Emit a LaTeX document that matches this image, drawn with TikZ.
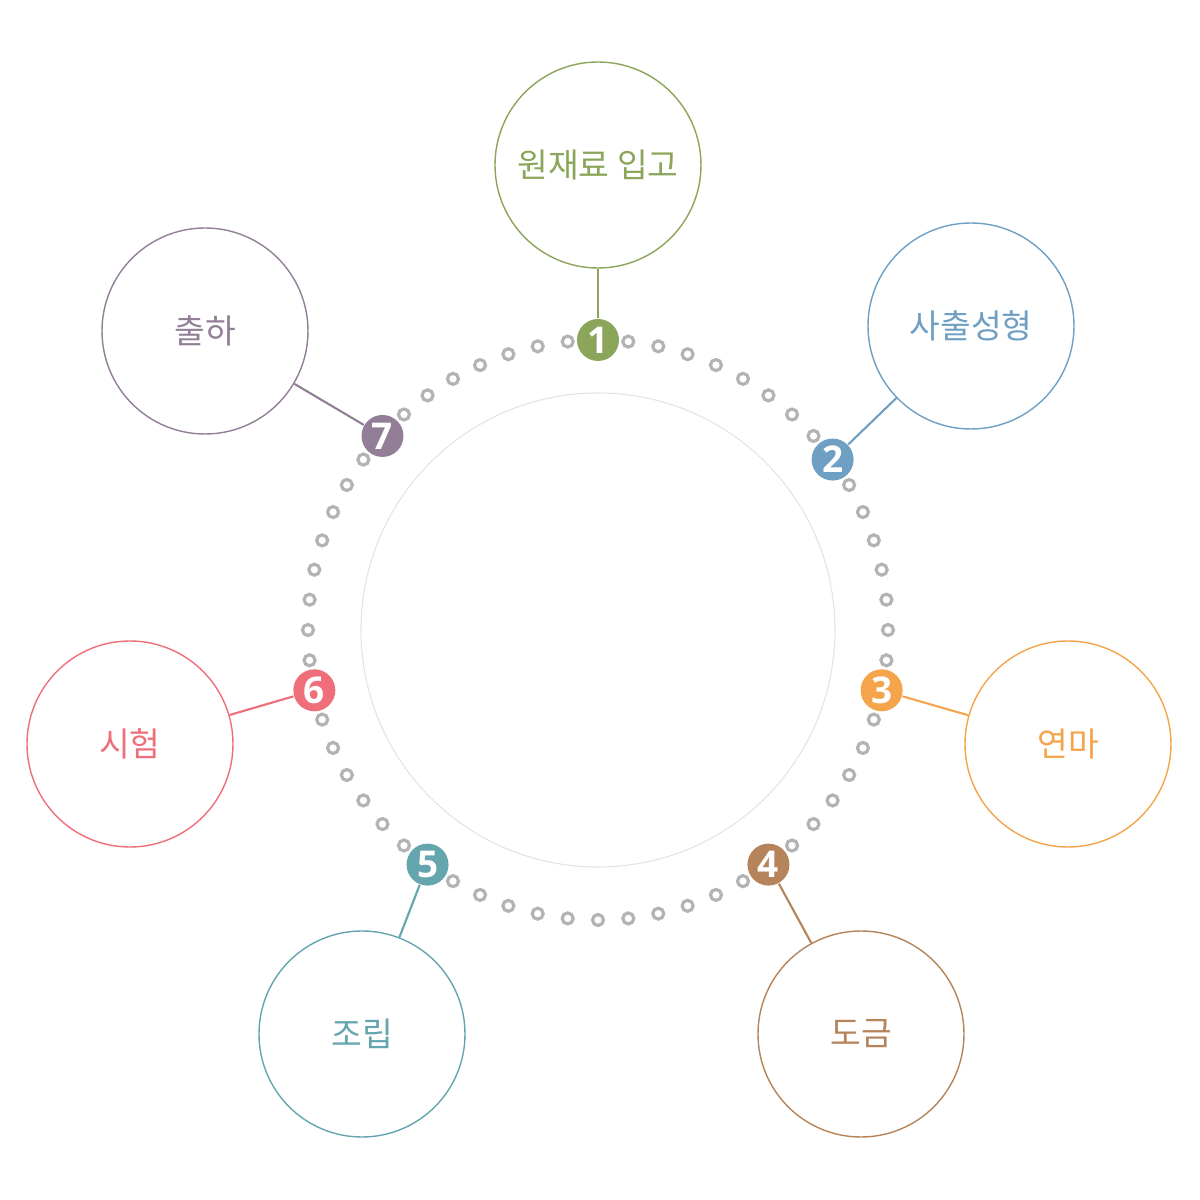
\documentclass[tikz,border=0pt]{standalone}
\usepackage{fontspec}
\usepackage{tikz}
\usetikzlibrary{calc}
\newfontfamily\krfont{Noto Sans CJK KR}
\newfontfamily\numfont{Open Sans}
\definecolor{cone}{HTML}{8BA65A}
\definecolor{ctwo}{HTML}{6FA0C4}
\definecolor{cthree}{HTML}{F4A54C}
\definecolor{cfour}{HTML}{B5845A}
\definecolor{cfive}{HTML}{65A5AD}
\definecolor{csix}{HTML}{EE6F7A}
\definecolor{cseven}{HTML}{927F97}
\definecolor{dotgray}{HTML}{B3B3B3}
\definecolor{ringgray}{HTML}{E3E3E3}

\begin{document}
\begin{tikzpicture}[
  dot/.style={circle,draw=dotgray,line width=0.9pt,minimum size=0.11cm,inner sep=0pt},
  badge/.style={circle,fill=#1,minimum size=0.42cm,inner sep=0pt,text=white,
    font=\numfont\bfseries\fontsize{10.5}{10.5}\selectfont},
  stage/.style={circle,draw=#1,line width=0.4pt,minimum size=2.06cm,inner sep=0pt,
    text=#1,font=\krfont\fontsize{9.5}{11}\selectfont},
  link/.style={draw=#1,line width=0.6pt}]

\useasboundingbox (0,0) rectangle (12,12);

\coordinate (c) at (5.98,5.70);
\draw[line width=0.3pt,color=ringgray] (c) circle (2.37);

% dotted ring
\foreach \a in {0,6,...,354}
  \node[dot] at ($(c)+(\a:2.9)$) {};

% numbered badges on the ring
\node[badge=cone] (b1) at ($(c)+(90:2.9)$) {1};
\node[badge=ctwo] (b2) at ($(c)+(36:2.9)$) {2};
\node[badge=cthree] (b3) at ($(c)+(-12:2.9)$) {3};
\node[badge=cfour] (b4) at ($(c)+(-54:2.9)$) {4};
\node[badge=cfive] (b5) at ($(c)+(234:2.9)$) {5};
\node[badge=csix] (b6) at ($(c)+(192:2.9)$) {6};
\node[badge=cseven] (b7) at ($(c)+(138:2.9)$) {7};

% process steps
\node[stage=cone] (s1) at (5.98,10.35) {원재료 입고};
\node[stage=ctwo] (s2) at (9.71,8.74) {사출성형};
\node[stage=cthree] (s3) at (10.68,4.56) {연마};
\node[stage=cfour] (s4) at (8.61,1.66) {도금};
\node[stage=cfive] (s5) at (3.62,1.66) {조립};
\node[stage=csix] (s6) at (1.30,4.56) {시험};
\node[stage=cseven] (s7) at (2.05,8.69) {출하};

\draw[link=cone] (b1) -- (s1);
\draw[link=ctwo] (b2) -- (s2);
\draw[link=cthree] (b3) -- (s3);
\draw[link=cfour] (b4) -- (s4);
\draw[link=cfive] (b5) -- (s5);
\draw[link=csix] (b6) -- (s6);
\draw[link=cseven] (b7) -- (s7);

\end{tikzpicture}
\end{document}
